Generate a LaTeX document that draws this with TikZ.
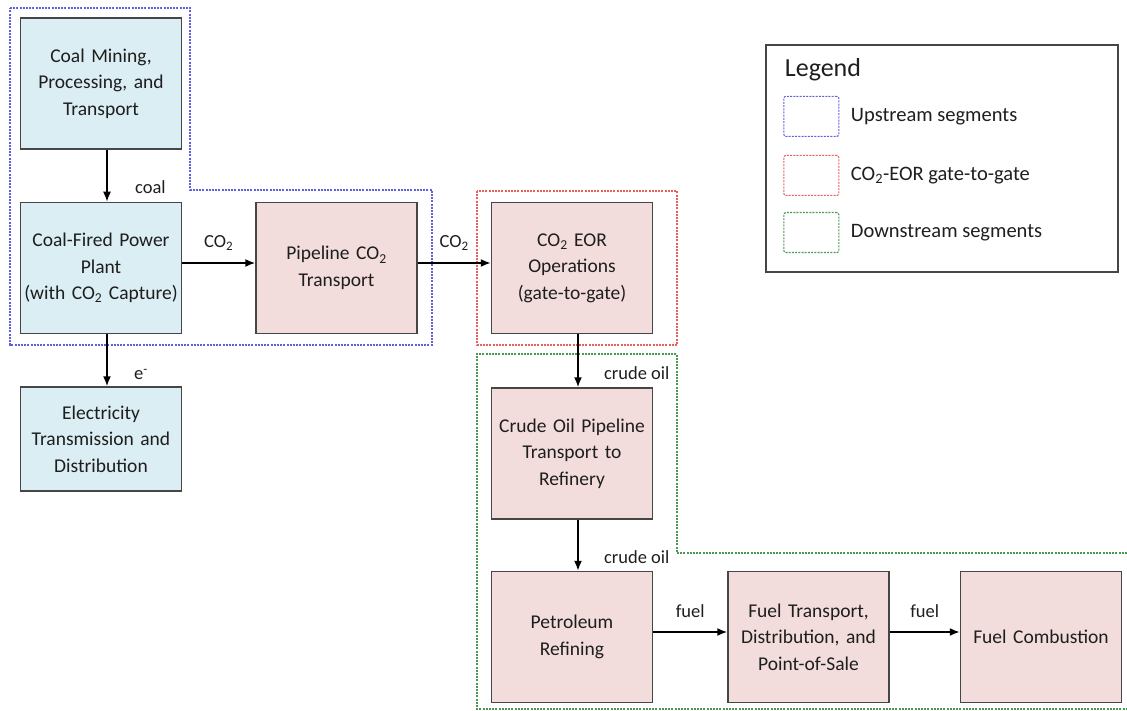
\documentclass[tikz,border=0pt]{standalone}
\usepackage{fontspec}
\setmainfont{Carlito}
\usetikzlibrary{positioning}
\usetikzlibrary{arrows.meta}

\definecolor{upfill}{RGB}{219,238,243}
\definecolor{eorfill}{RGB}{242,221,220}
\definecolor{boxline}{RGB}{70,70,70}
\definecolor{upline}{RGB}{95,95,225}
\definecolor{eorline}{RGB}{232,95,95}
\definecolor{downline}{RGB}{75,150,80}
\definecolor{inktext}{RGB}{30,30,30}

\tikzset{
  upbox/.style={draw=boxline, line width=1.5pt, fill=upfill, minimum width=161pt, minimum height=131pt,
    inner xsep=0pt, text width=159pt, align=center, text=inktext, font=\fontsize{19.5}{26.5}\selectfont},
  procbox/.style={upbox, fill=eorfill},
  flow/.style={line width=1.6pt, -{Latex[length=10pt, width=8pt]}},
  lbl/.style={text=inktext, font=\fontsize{18.5}{22}\selectfont},
  seg/.style={line width=1.1pt, dash pattern=on 2pt off 1.2pt},
  keybox/.style={seg, rounded corners=2pt, minimum width=55pt, minimum height=40pt},
  legtext/.style={text=inktext, font=\fontsize{20.5}{24}\selectfont},
}

\begin{document}
\begin{tikzpicture}[x=1pt, y=-1pt]
\useasboundingbox (0,0) rectangle (1127,711);

% segment boundaries
\draw[seg, upline] (10,8) -- (190,8) -- (190,190) -- (432,190) -- (432,345) -- (10,345) -- cycle;
\draw[seg, eorline] (477,191) rectangle (677,345);
\draw[seg, downline] (1127,553) -- (677,553) -- (677,354) -- (477,354) -- (477,709) -- (1127,709);

% upstream
\node[upbox] (mining) at (101,83.5) {Coal Mining,\\Processing, and\\Transport};
\node[upbox, below=52pt of mining] (plant) {Coal-Fired Power\\Plant\\(with CO\textsubscript{2} Capture)};
\node[upbox, minimum height=104pt, below=52pt of plant] (elec) {Electricity\\Transmission and\\Distribution};
\node[procbox, right=73pt of plant] (pipeline) {Pipeline CO\textsubscript{2}\\Transport};

% gate-to-gate
\node[procbox, right=73pt of pipeline] (eor) {CO\textsubscript{2} EOR\\Operations\\(gate-to-gate)};

% downstream
\node[procbox, below=53pt of eor] (crude) {Crude Oil Pipeline\\Transport to\\Refinery};
\node[procbox, below=51pt of crude] (refining) {Petroleum\\Refining};
\node[procbox, right=74pt of refining] (fueltrans) {Fuel Transport,\\Distribution, and\\Point-of-Sale};
\node[procbox, right=70pt of fueltrans] (combust) {Fuel Combustion};

% flows
\draw[flow] ([xshift=6pt]mining.south) -- ([xshift=6pt]plant.north)
  node[lbl, pos=0.72, anchor=west, xshift=24pt] {coal};
\draw[flow] ([xshift=6pt]plant.south) -- ([xshift=6pt]elec.north)
  node[lbl, pos=0.78, anchor=west, xshift=23pt] {e\textsuperscript{-}};
\draw[flow] ([yshift=5pt]plant.east) -- ([yshift=5pt]pipeline.west)
  node[lbl, midway, yshift=20pt] {CO\textsubscript{2}};
\draw[flow] ([yshift=5pt]pipeline.east) -- ([yshift=5pt]eor.west)
  node[lbl, midway, yshift=20pt] {CO\textsubscript{2}};
\draw[flow] ([xshift=6pt]eor.south) -- ([xshift=6pt]crude.north)
  node[lbl, pos=0.74, anchor=west, xshift=22pt] {crude oil};
\draw[flow] ([xshift=6pt]crude.south) -- ([xshift=6pt]refining.north)
  node[lbl, pos=0.74, anchor=west, xshift=22pt] {crude oil};
\draw[flow] ([yshift=5pt]refining.east) -- ([yshift=5pt]fueltrans.west)
  node[lbl, midway, yshift=21pt] {fuel};
\draw[flow] ([yshift=5pt]fueltrans.east) -- ([yshift=5pt]combust.west)
  node[lbl, midway, yshift=21pt] {fuel};

% legend
\node[draw=boxline, line width=1.3pt, minimum width=352pt, minimum height=227pt] (legend) at (942,158.5) {};
\node[text=inktext, font=\fontsize{26}{30}\selectfont, anchor=west] (legtitle)
  at ([xshift=16pt, yshift=-25pt]legend.north west) {Legend};
\node[keybox, draw=upline] (upkey) at ([xshift=46pt, yshift=-72pt]legend.north west) {};
\node[keybox, draw=eorline, below=18pt of upkey] (eorkey) {};
\node[keybox, draw=downline, below=16pt of eorkey] (downkey) {};
\node[legtext, right=8pt of upkey] (uptext) {Upstream segments};
\node[legtext, right=8pt of eorkey] (eortext) {CO\textsubscript{2}-EOR gate-to-gate};
\node[legtext, right=8pt of downkey] (downtext) {Downstream segments};
\end{tikzpicture}
\end{document}
